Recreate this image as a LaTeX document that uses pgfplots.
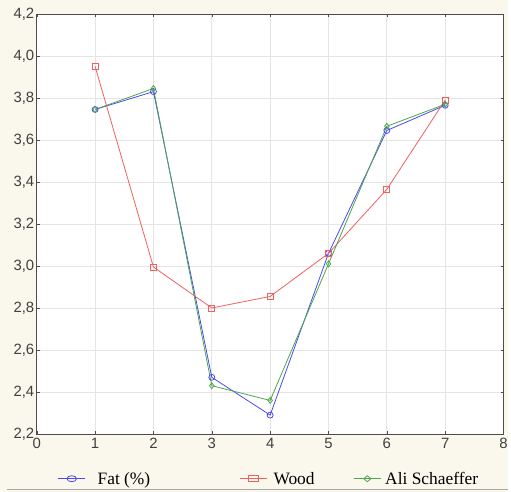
\documentclass[border=0pt]{standalone}
\usepackage{pgfplots}
\pgfplotsset{compat=1.18}
\usepackage{fontspec}
\setmainfont{Liberation Sans}
\newfontfamily\legfont{Liberation Serif}
\definecolor{cream}{HTML}{FAF7EC}
\definecolor{cblue}{HTML}{4A4AF0}
\definecolor{cred}{HTML}{F0605F}
\definecolor{cgreen}{HTML}{4CA64C}
\begin{document}
\begin{tikzpicture}[x=1pt,y=1pt]
\fill[cream] (-37,-58) rectangle (474,437);
\draw[gray!70,line width=1.2pt] (-30,-55.5) -- (474,-55.5);
\begin{axis}[
  at={(0,0)}, anchor=south west,
  scale only axis, width=470pt, height=423pt,
  xmin=0, xmax=8, ymin=2.2, ymax=4.2,
  xtick={0,...,8}, ytick={2.2,2.4,...,4.21},
  axis background/.style={fill=white},
  grid=major, major grid style={gray!20, line width=0.8pt},
  axis line style={gray!60!black, line width=0.8pt},
  tick align=inside, major tick length=3pt,
  tick style={gray!60!black},
  xticklabel style={font=\fontsize{15}{17}\selectfont, text=black!75, yshift=-1pt},
  yticklabel style={font=\fontsize{15}{17}\selectfont, text=black!75, xshift=1pt, /pgf/number format/.cd, use comma, fixed, fixed zerofill, precision=1},
  /pgf/number format/assume math mode=true,
  legend columns=3,
  legend style={at={(axis description cs:0,0)}, anchor=west, xshift=18pt, yshift=-45pt, draw=none, fill=none,
    font=\legfont\fontsize{17.5}{19}\selectfont,
    /tikz/column 1/.style={column sep=10pt},
    /tikz/column 2/.style={column sep=88pt},
    /tikz/column 3/.style={column sep=4pt},
    /tikz/column 4/.style={column sep=37pt},
    /tikz/column 5/.style={column sep=2pt}},
  legend image post style={xscale=1.6},
  legend cell align=left,
]
\addplot[cblue, line width=0.8pt, mark=o, mark size=3pt, mark options={line width=0.8pt}]
  coordinates {(1,3.745) (2,3.83) (3,2.47) (4,2.29) (5,3.06) (6,3.645) (7,3.765)};
\addlegendentry{Fat (\%)}
\addplot[cred, line width=0.8pt, mark=square, mark size=3pt, mark options={line width=0.8pt}]
  coordinates {(1,3.95) (2,2.995) (3,2.80) (4,2.855) (5,3.06) (6,3.365) (7,3.79)};
\addlegendentry{Wood}
\addplot[cgreen, line width=0.8pt, mark=diamond, mark size=3pt, mark options={line width=0.8pt}]
  coordinates {(1,3.745) (2,3.845) (3,2.43) (4,2.36) (5,3.01) (6,3.665) (7,3.77)};
\addlegendentry{Ali Schaeffer}
\end{axis}
\end{tikzpicture}
\end{document}
